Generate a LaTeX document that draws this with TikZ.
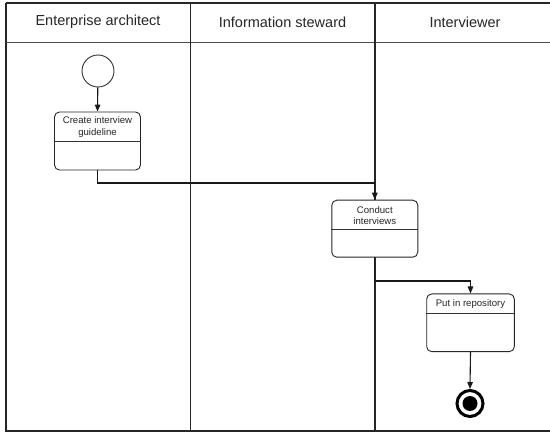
\documentclass[tikz,border=0pt]{standalone}
\usepackage{fontspec}
\setmainfont{Liberation Sans}
\usetikzlibrary{arrows.meta}
\tikzset{
  lane/.style={draw=black!85, line width=1.4pt},
  actbox/.style={draw=black!85, fill=white, line width=0.9pt, rounded corners=5pt, minimum width=86pt, minimum height=58pt, inner sep=0pt},
  acttext/.style={font=\fontsize{9.6}{11.5}\selectfont, align=center, inner sep=0pt, text=black!85},
  headtext/.style={font=\fontsize{14.5}{16}\selectfont, inner sep=0pt, text=black!85},
  flow/.style={draw=black!90, line width=1.1pt, -{Triangle[length=7pt,width=5.5pt]}},
}
\begin{document}
\begin{tikzpicture}[x=1pt,y=-1pt]
\clip (0,0) rectangle (550,433);
\fill[white] (0,0) rectangle (550,433);
% frame
\draw[lane] (6,3) -- (560,3);
\draw[lane] (6,3) -- (6,431) -- (560,431);
\draw[draw=black!70, line width=1pt] (6,43) -- (560,43);
\draw[lane] (190.5,3) -- (190.5,431);
\draw[lane] (374.8,3) -- (374.8,431);
% headers
\node[headtext] (h1) at (98,22) {Enterprise architect};
\node[headtext] (h2) at (282.5,22) {Information steward};
\node[headtext] (h3) at (465,22) {Interviewer};
% start
\node[circle, draw=black!80, fill=white, line width=0.9pt, minimum size=32pt, inner sep=0pt] (s) at (98,71) {};
% box 1
\node[actbox] (b1) at (97.5,141) {};
\draw[draw=black!80, line width=0.8pt] (b1.west |- 0,141) -- (b1.east |- 0,141);
\node[acttext] (b1t) at (97.5,127) {Create interview\\guideline};
% box 2
\node[actbox, minimum height=57pt] (b2) at (374.8,228.7) {};
\draw[draw=black!80, line width=0.8pt] (b2.west |- 0,229) -- (b2.east |- 0,229);
\node[acttext] (b2t) at (374.8,215.5) {Conduct\\interviews};
% box 3
\node[actbox, minimum width=87.6pt, minimum height=57.7pt] (b3) at (470.5,322.8) {};
\draw[draw=black!80, line width=0.8pt] (b3.west |- 0,313) -- (b3.east |- 0,313);
\node[acttext] (b3t) at (470.5,304) {Put in repository};
% end
\node[circle, draw=black, line width=3pt, minimum size=26pt, inner sep=0pt] (e) at (470,403.5) {};
\fill[black] (e.center) circle (7.5pt);
% connectors
\coordinate (c1) at (374.8,183);
\coordinate (c2) at (374.8,281);
\draw[flow] (s) -- (b1.north);
\draw[flow] (b1.south) |- (c1) -- (b2.north);
\draw[flow] (b2.south) -- (c2) -| (b3.north);
\draw[flow] (b3.south) -- (e.north);
\end{tikzpicture}
\end{document}
